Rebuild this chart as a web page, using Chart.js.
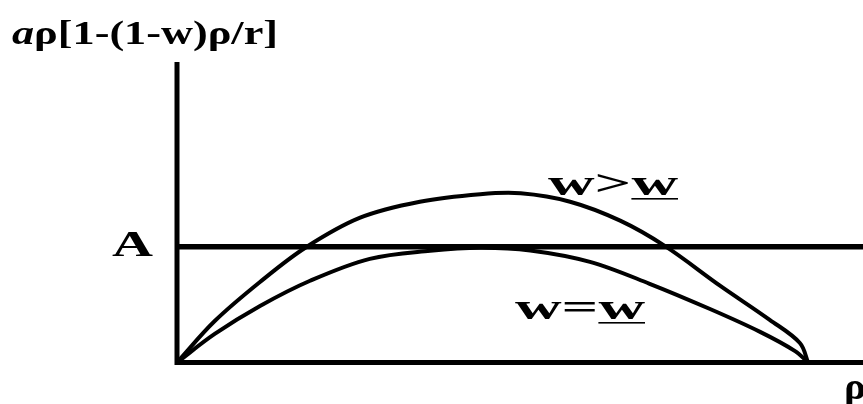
<!DOCTYPE html>
<html lang="en">
<head>
    <meta charset="UTF-8">
    <title>Growth curves</title>
    <script src="https://cdn.jsdelivr.net/npm/chart.js"></script>
    <style>
        * {
            margin: 0;
            padding: 0;
            box-sizing: border-box;
        }

        body {
            background: #fff;
            width: 863px;
            height: 404px;
            overflow: hidden;
        }

        .chart-container {
            position: relative;
            width: 863px;
            height: 404px;
        }
    </style>
</head>
<body>
    <div class="chart-container">
        <canvas id="growthChart"></canvas>
    </div>

    <script>
        // Curve for w > w_ (rises above A, crosses it twice)
        const rhoUpper = [0, 5.5, 12.1, 18.7, 26.7, 35.4, 44.2, 50.1, 57.3, 64.6, 71.1, 79.2, 86.4, 90.8, 92.0];
        const valUpper = [0, 13.8, 26.8, 38.2, 48.2, 53.5, 56.0, 56.3, 53.5, 47.2, 38.8, 25.5, 14.2, 6.5, 0];

        // Curve for w = w_ (just touches A)
        const rhoLower = [0, 5.5, 12.1, 19.4, 28.1, 36.9, 44.2, 51.5, 60.2, 68.9, 77.7, 85.0, 90.1, 92.0];
        const valLower = [0, 9.5, 18.8, 27.2, 34.5, 37.2, 38.2, 37.3, 33.5, 26.2, 17.8, 10.2, 3.8, 0];

        // Level A, drawn across the whole rho range
        const levelA = 38.5;
        const rhoRange = [0, 100];
        const valRange = [0, 100];

        const toPoints = (xs, ys) => xs.map((x, i) => ({ x: x, y: ys[i] }));

        const SERIF = '"Times New Roman", "Liberation Serif", serif';

        // draws text stretched so it spans left..right
        function stretchedText(ctx, parts, left, right, baseline) {
            let total = 0;
            const widths = parts.map(p => {
                ctx.font = p.font;
                const w = ctx.measureText(p.text).width;
                total += w;
                return w;
            });
            const sx = (right - left) / total;
            ctx.save();
            ctx.translate(left, baseline);
            ctx.scale(sx, 1);
            ctx.fillStyle = '#000';
            ctx.textBaseline = 'alphabetic';
            ctx.textAlign = 'left';
            let x = 0;
            parts.forEach((p, i) => {
                ctx.font = p.font;
                ctx.fillText(p.text, x, 0);
                if (p.underline) {
                    ctx.fillRect(x, 3, widths[i], 1.6);
                }
                x += widths[i];
            });
            ctx.restore();
        }

        const axesAndLabels = {
            id: 'axesAndLabels',
            afterDatasetsDraw(chart) {
                const ctx = chart.ctx;
                const xs = chart.scales.x;
                const ys = chart.scales.y;
                const x0 = xs.getPixelForValue(0);
                const y0 = ys.getPixelForValue(0);

                ctx.save();
                ctx.strokeStyle = '#000';
                ctx.lineWidth = 5;
                ctx.lineCap = 'butt';
                ctx.beginPath();
                ctx.moveTo(x0, ys.getPixelForValue(valRange[1]));
                ctx.lineTo(x0, y0 + 2.5);
                ctx.moveTo(x0 - 2.5, y0);
                ctx.lineTo(xs.getPixelForValue(rhoRange[1]), y0);
                ctx.stroke();
                ctx.restore();

                stretchedText(ctx, [
                    { text: 'a', font: `italic bold 34px ${SERIF}` },
                    { text: 'ρ[1-(1-w)ρ/r]', font: `bold 34px ${SERIF}` }
                ], 12, 278, 44);

                const big = `bold 36px ${SERIF}`;
                stretchedText(ctx, [{ text: 'A', font: big }], 112, 153, 256);
                stretchedText(ctx, [
                    { text: 'w', font: big },
                    { text: '>', font: big },
                    { text: 'w', font: big, underline: true }
                ], 548, 678, 195);
                stretchedText(ctx, [
                    { text: 'w', font: big },
                    { text: '=', font: big },
                    { text: 'w', font: big, underline: true }
                ], 515, 645, 319);
                stretchedText(ctx, [{ text: 'ρ', font: `bold 38px ${SERIF}` }], 844, 866, 399);
            }
        };

        new Chart(document.getElementById('growthChart'), {
            type: 'scatter',
            data: {
                datasets: [
                    {
                        label: 'A',
                        data: toPoints(rhoRange, [levelA, levelA]),
                        showLine: true,
                        borderColor: '#000',
                        borderWidth: 5.5,
                        pointRadius: 0,
                        clip: false
                    },
                    {
                        label: 'w>w',
                        data: toPoints(rhoUpper, valUpper),
                        showLine: true,
                        borderColor: '#000',
                        borderWidth: 4,
                        pointRadius: 0,
                        tension: 0.35,
                        clip: false
                    },
                    {
                        label: 'w=w',
                        data: toPoints(rhoLower, valLower),
                        showLine: true,
                        borderColor: '#000',
                        borderWidth: 4,
                        pointRadius: 0,
                        tension: 0.35,
                        clip: false
                    }
                ]
            },
            options: {
                responsive: true,
                maintainAspectRatio: false,
                animation: false,
                layout: {
                    padding: { left: 177, right: 0, top: 62, bottom: 41.5 }
                },
                scales: {
                    x: { type: 'linear', min: rhoRange[0], max: rhoRange[1], display: false },
                    y: { type: 'linear', min: valRange[0], max: valRange[1], display: false }
                },
                plugins: {
                    legend: { display: false },
                    tooltip: { enabled: false }
                }
            },
            plugins: [axesAndLabels]
        });
    </script>
</body>
</html>
